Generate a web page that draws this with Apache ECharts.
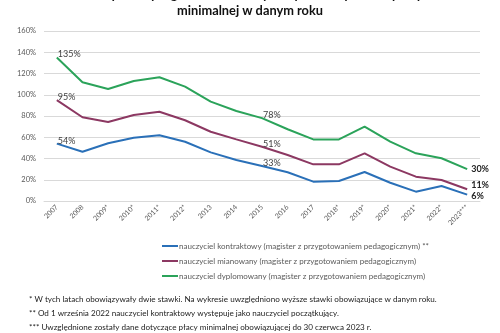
<!DOCTYPE html>
<html>
<head>
<meta charset="utf-8">
<script src="https://cdn.jsdelivr.net/npm/echarts@6/dist/echarts.min.js"></script>
<style>
  html, body { margin: 0; padding: 0; background: #fff; }
  #chart { width: 500px; height: 333px; }
</style>
</head>
<body>
<div id="chart"></div>
<script>
// Years (with footnote markers)
const categories = ['2007', '2008', '2009*', '2010*', '2011*', '2012*', '2013', '2014', '2015',
  '2016', '2017', '2018*', '2019*', '2020*', '2021*', '2022*', '2023***'];

// Percent by which base pay exceeds the minimum wage
const kontraktowy = [54, 46.4, 54.3, 59.6, 61.8, 55.8, 45.8, 38.6, 33, 27, 18.2, 18.8, 27.3, 17.2, 8.8, 14.1, 6];
const mianowany = [95, 78.8, 74.4, 81, 84, 76, 65.2, 58, 51, 43.3, 34.5, 34.5, 44.9, 32.3, 22.9, 19.8, 11];
const dyplomowany = [135, 111.7, 105.4, 113, 116.5, 107.6, 93.5, 84.7, 78, 67.5, 58, 58, 70, 55.8, 44.9, 40.2, 30];

const seriesNames = [
  'nauczyciel kontraktowy (magister z przygotowaniem pedagogicznym) **',
  'nauczyciel mianowany (magister z przygotowaniem pedagogicznym)',
  'nauczyciel dyplomowany (magister z przygotowaniem pedagogicznym)'
];

// Points that carry a value label
const labelledIdx = [0, 8, 16];
// Vertical nudge of the end-of-line labels, per series
const endLabelShift = [1, -4, 0];

const yTicks = [0, 20, 40, 60, 80, 100, 120, 140, 160];

const footnotes = [
  '* W tych latach obowiązywały dwie stawki. Na wykresie uwzględniono wyższe stawki obowiązujące w danym roku.',
  '** Od 1 września 2022 nauczyciel kontraktowy występuje jako nauczyciel początkujący.',
  '*** Uwzględnione zostały dane dotyczące płacy minimalnej obowiązującej do 30 czerwca 2023 r.'
];

const colors = ['#2a70b8', '#8c3862', '#2ba35a'];
const FONT = 'Lato, "Liberation Sans", sans-serif';

function buildData(values, k) {
  const last = values.length - 1;
  return values.map((v, i) => {
    if (labelledIdx.indexOf(i) < 0) return v;
    const isLast = i === last;
    return {
      value: v,
      label: {
        show: true,
        position: 'right',
        distance: isLast ? 4 : 1,
        offset: isLast ? [0, endLabelShift[k]] : [0, -3],
        formatter: p => Math.round(p.value) + '%',
        fontFamily: FONT,
        fontSize: 9,
        fontWeight: isLast ? 'bold' : 'normal',
        color: isLast ? '#222' : '#404040'
      }
    };
  });
}

const lists = [kontraktowy, mianowany, dyplomowany];

const chart = echarts.init(document.getElementById('chart'), null, { renderer: 'canvas' });
chart.setOption({
  animation: false,
  color: colors,
  title: {
    text: 'Nadwyżka wynagrodzenia nauczycieli ponad wysokość płacy\nminimalnej w danym roku',
    left: 'center',
    top: -18,
    textStyle: { fontFamily: FONT, fontSize: 12.8, fontWeight: 'bold', color: '#111', lineHeight: 16 }
  },
  grid: { left: 44, right: 20, top: 31, bottom: 132, containLabel: false },
  xAxis: {
    type: 'category',
    data: categories,
    boundaryGap: true,
    axisLine: { show: true, lineStyle: { color: '#d9d9d9' } },
    axisTick: { show: false },
    axisLabel: { rotate: 45, fontFamily: FONT, fontSize: 7, color: '#595959', margin: 5, interval: 0 }
  },
  yAxis: {
    type: 'value',
    min: yTicks[0],
    max: yTicks[yTicks.length - 1],
    interval: yTicks[1] - yTicks[0],
    axisLine: { show: false },
    axisTick: { show: false },
    axisLabel: { formatter: '{value}%', fontFamily: FONT, fontSize: 7.5, color: '#595959', margin: 8 },
    splitLine: { lineStyle: { color: '#d9d9d9', width: 1 } }
  },
  legend: {
    orient: 'vertical',
    left: 157,
    top: 237,
    itemWidth: 16,
    itemHeight: 2,
    itemGap: 7,
    icon: 'rect',
    data: seriesNames,
    textStyle: { fontFamily: FONT, fontSize: 8, color: '#595959', padding: [0, 0, 0, -4] }
  },
  series: lists.map((vals, k) => ({
    name: seriesNames[k],
    type: 'line',
    data: buildData(vals, k),
    showSymbol: true,
    symbol: 'circle',
    symbolSize: 0.01,
    lineStyle: { width: 2, color: colors[k] },
    itemStyle: { color: colors[k] },
    emphasis: { disabled: true }
  })),
  graphic: footnotes.map((t, i) => ({
    type: 'text',
    left: 29,
    top: 295 + i * 14,
    style: { text: t, fontFamily: FONT, fontSize: 8.1, fill: '#222' }
  }))
});
</script>
</body>
</html>
